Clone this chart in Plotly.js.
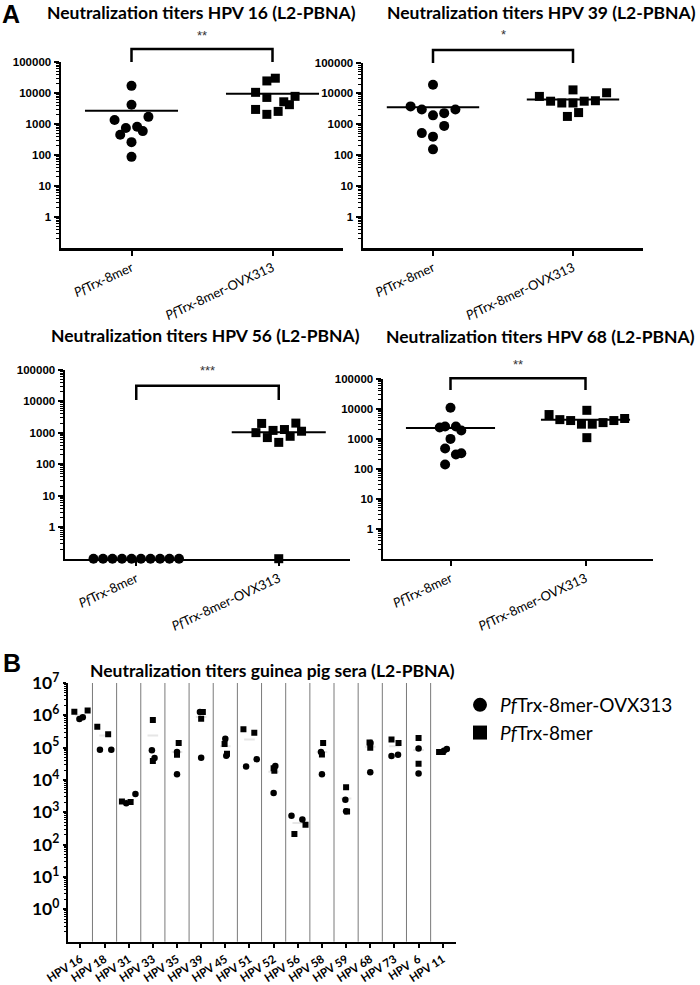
<!DOCTYPE html>
<html><head><meta charset="utf-8">
<script src="https://cdn.plot.ly/plotly-3.0.1.min.js"></script>
<style>body{margin:0;background:#fff}#chart{width:700px;height:985px}</style>
</head><body><div id="chart"></div>
<script>
// ---------- Panel A data ----------
const groupLabels = ['<i>Pf</i>Trx-8mer', '<i>Pf</i>Trx-8mer-OVX313'];
const yTickVals = [1, 10, 100, 1000, 10000, 100000];
const yTickText = ['1', '10', '100', '1000', '10000', '100000'];

// HPV 16
const hpv16_8mer = [17000, 4200, 1700, 1350, 820, 740, 590, 450, 260, 87];
const hpv16_8mer_x = [0, 0, 0.12, -0.12, 0.04, -0.04, 0.08, -0.08, 0, 0];
const hpv16_ovx = [30000, 24500, 10500, 7800, 7200, 5200, 4200, 2950, 2550, 2050];
const hpv16_ovx_x = [1.02, 0.96, 0.88, 1.16, 0.96, 1.08, 1.12, 0.88, 1.04, 0.96];
const hpv16_means = [2700, 9500];
// HPV 39
const hpv39_8mer = [19000, 3800, 3000, 3000, 2300, 1950, 890, 520, 400, 155];
const hpv39_8mer_x = [0, -0.16, -0.08, 0.16, 0.08, 0, 0.08, -0.08, 0, 0];
const hpv39_ovx = [13000, 10500, 8000, 5600, 4900, 4900, 5600, 5800, 2400, 1800];
const hpv39_ovx_x = [1.0, 1.24, 0.76, 0.84, 0.92, 1.0, 1.08, 1.16, 1.04, 0.96];
const hpv39_means = [3550, 6400];
// HPV 56
const hpv56_8mer = [0.1, 0.1, 0.1, 0.1, 0.1, 0.1, 0.1, 0.1, 0.1, 0.1];
const hpv56_8mer_x = [-0.3, -0.233, -0.167, -0.1, -0.033, 0.033, 0.1, 0.167, 0.233, 0.3];
const hpv56_ovx = [2000, 2050, 1020, 1200, 1280, 1130, 710, 780, 500, 0.1];
const hpv56_ovx_x = [0.88, 1.12, 0.84, 0.96, 1.04, 1.16, 0.92, 1.08, 1.0, 1.0];
const hpv56_means = [null, 1050];
// HPV 68
const hpv68_8mer = [11000, 2600, 2400, 2600, 1900, 1000, 480, 300, 330, 140];
const hpv68_8mer_x = [0, -0.04, -0.08, 0.04, 0.08, 0, -0.04, 0.04, 0.08, -0.04];
const hpv68_ovx = [6500, 9000, 4400, 4100, 3100, 3100, 3500, 4100, 4800, 1100];
const hpv68_ovx_x = [0.73, 1.01, 0.81, 0.89, 0.97, 1.05, 1.13, 1.21, 1.29, 1.01];
const hpv68_means = [2300, 4400];

const panelTitles = ['Neutralization titers HPV 16 (L2-PBNA)', 'Neutralization titers HPV 39 (L2-PBNA)',
                     'Neutralization titers HPV 56 (L2-PBNA)', 'Neutralization titers HPV 68 (L2-PBNA)'];
const panelStars = ['**', '*', '***', '**'];

// ---------- Panel B data ----------
const bCategories = ['HPV 16', 'HPV 18', 'HPV 31', 'HPV 33', 'HPV 35', 'HPV 39', 'HPV 45', 'HPV 51',
                     'HPV 52', 'HPV 56', 'HPV 58', 'HPV 59', 'HPV 68', 'HPV 73', 'HPV  6', 'HPV 11'];
const bOvx = [[7.7e5, 8.7e5], [8.7e4, 8.7e4], [1900, 3700], [8.3e4, 4.8e4], [7.4e4, 1.5e4], [1.27e6, 4.9e4],
              [1.9e5, 5.6e4], [2.6e4, 4.4e4], [2.7e4, 4000], [780, 600], [7.4e4, 1.5e4], [2450, 1090],
              [1.4e5, 1.74e4], [5.5e4, 6.0e4], [9.4e4, 1.6e4], [9.1e4, 8.0e4]];
const bOvx_dx = [[-0.04, 0.10], [-0.19, 0.28], [-0.10, 0.28], [-0.04, 0.07], [0, 0], [-0.05, 0], [0, 0.04],
                 [-0.14, 0.30], [0.07, 0], [-0.26, 0.19], [-0.04, 0], [-0.03, 0], [0.01, 0], [-0.12, 0.15],
                 [0, 0], [0.17, 0.05]];
const b8mer = [[1.3e6, 1.4e6], [4.4e5, 2.6e5], [2150, 2100], [7.2e5, 3.9e4], [1.4e5, 6.0e4], [1.27e6, 7.9e5],
               [1.3e5, 6.5e4], [3.7e5, 2.9e5], [1.95e4, 2.3e4], [215, 415], [1.4e5, 6.2e4], [6000, 1070],
               [1.44e5, 1.0e5], [1.8e5, 1.4e5], [2.0e5, 3.2e4], [7.4e4, 7.4e4]];
const b8mer_dx = [[-0.25, 0.30], [-0.30, 0.15], [-0.28, 0.08], [0, 0], [0.07, 0], [0.07, 0], [-0.03, 0.07],
                  [-0.25, 0.20], [0.03, 0], [-0.14, 0.32], [0.05, 0], [0, 0.04], [-0.03, 0], [-0.12, 0.17],
                  [0, 0], [-0.15, 0]];
const bFaintMeans = [1.0e6, 2.4e5, 2400, 2.4e5, 7.3e4, 8.9e5, 1.1e5, 1.8e5, 1.8e4, 465, 7.3e4, 2700,
                     1.06e5, 1.1e5, 8.4e4, 7.8e4];
const bTitle = 'Neutralization titers guinea pig sera (L2-PBNA)';
const legendNames = ['<i>Pf</i>Trx-8mer-OVX313', '<i>Pf</i>Trx-8mer'];

// ---------- geometry helpers ----------
const W = 700, H = 985;
const dx = (a, b) => [a / W, b / W];
const dy = (top, bottom) => [1 - bottom / H, 1 - top / H];
const py = p => 1 - p / H;

const panels = [
  {v8: hpv16_8mer, x8: hpv16_8mer_x, vo: hpv16_ovx, xo: hpv16_ovx_x, m: hpv16_means,
   xd: dx(61, 343), yd: dy(62, 248), title: [201, 12.5], bt: 49, bb: 62, st: 26},
  {v8: hpv39_8mer, x8: hpv39_8mer_x, vo: hpv39_ovx, xo: hpv39_ovx_x, m: hpv39_means,
   xd: dx(363, 643), yd: dy(62.5, 248), title: [541, 12.5], bt: 50, bb: 63, st: 25},
  {v8: hpv56_8mer, x8: hpv56_8mer_x, vo: hpv56_ovx, xo: hpv56_ovx_x, m: hpv56_means,
   xd: dx(65, 350), yd: dy(370, 558.7), title: [206, 335], bt: 385.7, bb: 400, st: 361},
  {v8: hpv68_8mer, x8: hpv68_8mer_x, vo: hpv68_ovx, xo: hpv68_ovx_x, m: hpv68_means,
   xd: dx(383, 653), yd: dy(379, 558.7), title: [540, 336], bt: 378.3, bb: 390, st: 355}
];

const traces = [];
const shapes = [];
const annotations = [];
const layout = {
  width: W, height: H, margin: {l: 0, r: 0, t: 0, b: 0},
  paper_bgcolor: '#fff', plot_bgcolor: 'rgba(0,0,0,0)',
  showlegend: true,
  font: {family: 'Lato, sans-serif', color: '#000'}
};

const minorA = [];
for (let d = -1; d < 5; d++) for (let k = 2; k <= 9; k++) minorA.push(k * Math.pow(10, d));

panels.forEach((p, i) => {
  const n = i + 1, xa = 'x' + n, ya = 'y' + n;
  traces.push({type: 'scatter', mode: 'markers', x: p.x8, y: p.v8, xaxis: xa, yaxis: ya,
    marker: {symbol: 'circle', size: 10, color: '#000'}, cliponaxis: false, showlegend: false, hoverinfo: 'skip'});
  traces.push({type: 'scatter', mode: 'markers', x: p.xo, y: p.vo, xaxis: xa, yaxis: ya,
    marker: {symbol: 'square', size: 9, color: '#000'}, cliponaxis: false, showlegend: false, hoverinfo: 'skip'});
  [0, 1].forEach(c => {
    if (p.m[c] == null) return;
    traces.push({type: 'scatter', mode: 'lines', x: [c - 0.33, c + 0.33], y: [p.m[c], p.m[c]],
      xaxis: xa, yaxis: ya, line: {color: '#000', width: 2}, showlegend: false, hoverinfo: 'skip'});
  });
  layout['xaxis' + (n === 1 ? '' : n)] = {
    domain: p.xd, anchor: ya, range: [-0.5, 1.5], showgrid: false, zeroline: false,
    showline: true, linecolor: '#000', linewidth: 2.5,
    ticks: 'outside', ticklen: 5, tickwidth: 2, tickcolor: '#000',
    tickvals: [0, 1], ticktext: groupLabels, tickangle: -25,
    tickfont: {family: 'Lato, sans-serif', size: 13, color: '#000'}
  };
  layout['yaxis' + (n === 1 ? '' : n)] = {
    domain: p.yd, anchor: xa, type: 'log', range: [-1, 5], showgrid: false, zeroline: false,
    showline: true, linecolor: '#000', linewidth: 2.5,
    ticks: 'outside', ticklen: 5, tickwidth: 2, tickcolor: '#000',
    tickvals: yTickVals, ticktext: yTickText,
    tickfont: {family: 'Liberation Sans, Arial, sans-serif', size: 11.5, color: '#000', weight: 'bold'},
    minor: {tickvals: minorA, ticks: 'outside', ticklen: 3, tickwidth: 1, tickcolor: '#000', showgrid: false}
  };
  // significance bracket
  shapes.push({type: 'path', xref: xa, yref: 'paper',
    path: `M 0,${py(p.bb)} L 0,${py(p.bt)} L 1,${py(p.bt)} L 1,${py(p.bb)}`,
    line: {color: '#000', width: 2.5}});
  annotations.push({xref: xa, yref: 'paper', x: 0.5, y: py(p.st), text: panelStars[i], showarrow: false,
    font: {family: 'Liberation Sans, Arial', size: 13, color: '#333'}, xanchor: 'center', yanchor: 'top'});
  annotations.push({xref: 'paper', yref: 'paper', x: p.title[0] / W, y: py(p.title[1]), text: panelTitles[i],
    showarrow: false, xanchor: 'center', yanchor: 'middle',
    font: {family: 'Lato, sans-serif', size: 17.5, weight: 'bold', color: '#000'}});
});

// ---------- Panel B ----------
const bx = [], by = [], sx = [], sy = [], fx = [], fy = [];
bCategories.forEach((c, i) => {
  bOvx[i].forEach((v, j) => { bx.push(i + bOvx_dx[i][j]); by.push(v); });
  b8mer[i].forEach((v, j) => { sx.push(i + b8mer_dx[i][j]); sy.push(v); });
  fx.push(i - 0.22, i + 0.22, null); fy.push(bFaintMeans[i], bFaintMeans[i], null);
});
traces.push({type: 'scatter', mode: 'lines', x: fx, y: fy, xaxis: 'x5', yaxis: 'y5',
  line: {color: '#e6e6e6', width: 2}, showlegend: false, hoverinfo: 'skip', connectgaps: false});
traces.push({type: 'scatter', mode: 'markers', x: sx, y: sy, xaxis: 'x5', yaxis: 'y5',
  marker: {symbol: 'square', size: 6, color: '#000'}, showlegend: false, hoverinfo: 'skip'});
traces.push({type: 'scatter', mode: 'markers', x: bx, y: by, xaxis: 'x5', yaxis: 'y5',
  marker: {symbol: 'circle', size: 6.5, color: '#000'}, showlegend: false, hoverinfo: 'skip'});
// legend entries
traces.push({type: 'scatter', mode: 'markers', x: [null], y: [null], xaxis: 'x5', yaxis: 'y5',
  name: legendNames[0], legendgroup: 'a', marker: {symbol: 'circle', size: 14, color: '#000'}});
traces.push({type: 'scatter', mode: 'markers', x: [null], y: [null], xaxis: 'x5', yaxis: 'y5',
  name: legendNames[1], legendgroup: 'b', marker: {symbol: 'square', size: 14, color: '#000'}});

const minorB = [];
for (let d = -1; d < 7; d++) for (let k = 2; k <= 9; k++) minorB.push(k * Math.pow(10, d));
const bTickVals = [], bTickText = [];
for (let k = 0; k <= 7; k++) { bTickVals.push(Math.pow(10, k)); bTickText.push('10<sup>' + k + '</sup>'); }

layout.xaxis5 = {
  domain: dx(68.3, 456), anchor: 'y5', range: [-0.5, 15.55], showgrid: false, zeroline: false,
  showline: true, linecolor: '#000', linewidth: 2.5,
  ticks: 'outside', ticklen: 4, tickwidth: 2, tickcolor: '#000',
  tickvals: bCategories.map((c, i) => i), ticktext: bCategories, tickangle: -33,
  tickfont: {family: 'Lato, sans-serif', size: 11.5, weight: 'bold', color: '#000'}
};
layout.yaxis5 = {
  domain: dy(683, 941.7), anchor: 'x5', type: 'log', range: [-1, 7], showgrid: false, zeroline: false,
  showline: true, linecolor: '#000', linewidth: 2.5,
  ticks: 'outside', ticklen: 3, tickwidth: 2, tickcolor: '#000',
  tickvals: bTickVals, ticktext: bTickText,
  tickfont: {family: 'Lato, sans-serif', size: 17.5, weight: 'bold', color: '#000'},
  minor: {tickvals: minorB, ticks: 'outside', ticklen: 2, tickwidth: 1, tickcolor: '#000', showgrid: false}
};
for (let i = 0; i < bCategories.length - 1; i++) {
  shapes.push({type: 'line', xref: 'x5', yref: 'y5 domain', x0: i + 0.5, x1: i + 0.5, y0: 0, y1: 1,
    line: {color: '#7a7a7a', width: 1}, layer: 'below'});
}
annotations.push({xref: 'paper', yref: 'paper', x: 272 / W, y: py(670), text: bTitle, showarrow: false,
  xanchor: 'center', yanchor: 'middle', font: {family: 'Lato, sans-serif', size: 17.5, weight: 'bold', color: '#000'}});
annotations.push({xref: 'paper', yref: 'paper', x: 11 / W, y: py(14), text: 'A', showarrow: false,
  xanchor: 'center', yanchor: 'middle', font: {family: 'Liberation Sans, Arial', size: 25, weight: 'bold', color: '#000'}});
annotations.push({xref: 'paper', yref: 'paper', x: 12 / W, y: py(663), text: 'B', showarrow: false,
  xanchor: 'center', yanchor: 'middle', font: {family: 'Liberation Sans, Arial', size: 25, weight: 'bold', color: '#000'}});

layout.legend = {x: 460 / W, y: py(686), xanchor: 'left', yanchor: 'top', bgcolor: 'rgba(0,0,0,0)',
  font: {family: 'Lato, sans-serif', size: 19, color: '#000'}, itemwidth: 30, tracegroupgap: 8,
  traceorder: 'normal'};
layout.shapes = shapes;
layout.annotations = annotations;

Plotly.newPlot('chart', traces, layout, {staticPlot: true});
</script></body></html>
